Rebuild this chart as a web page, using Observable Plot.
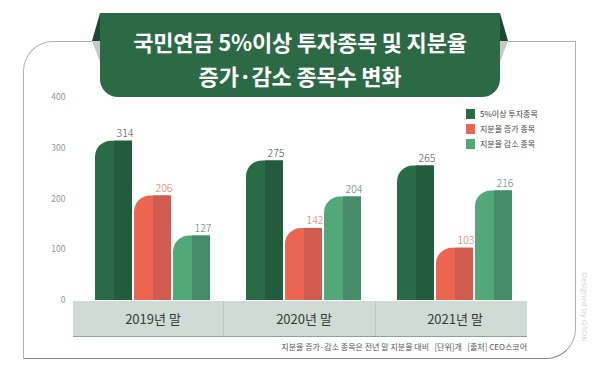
<!DOCTYPE html>
<html><head><meta charset="utf-8">
<script src="https://cdn.jsdelivr.net/npm/d3@7"></script>
<script src="https://cdn.jsdelivr.net/npm/@observablehq/plot@0.6"></script>
<style>
body{margin:0;background:#fff;}
#wrap{position:relative;width:600px;height:375px;overflow:hidden;font-family:"Noto Sans CJK KR","Noto Sans",sans-serif;}
.frame{position:absolute;left:23px;top:41px;width:551px;height:316px;border:1.5px solid #aab3af;border-top-left-radius:30px;border-bottom-right-radius:30px;border-bottom-color:#7d8883;}
.band{position:absolute;left:73px;top:301px;width:454px;height:35px;background:#cfdbd4;border-bottom:1.5px solid #8ea398;}
.band .dv{position:absolute;top:0;width:1px;height:35px;background:#bccbc3;}
#chart{position:absolute;left:0;top:0;}
.banner{position:absolute;left:100px;top:13px;width:400px;height:84px;background:#2c6a45;border-radius:0 0 18px 18px;}
.flap{position:absolute;}
.title{position:absolute;left:90px;top:24px;width:420px;text-align:center;color:#fff;font-size:22px;font-weight:700;line-height:34px;letter-spacing:-0.2px;}
.legend{position:absolute;left:466px;top:106px;font-size:8px;color:#444;}
.legend div{height:15px;display:flex;align-items:center;}
.legend span{display:inline-block;width:9px;height:10px;margin-right:5px;}
.foot{position:absolute;right:73px;top:341px;font-size:8px;color:#555;white-space:pre;}
.credit{position:absolute;left:580px;top:272px;writing-mode:vertical-rl;font-size:8px;color:#cfd5d2;font-family:"Open Sans",sans-serif;}
g[aria-label="y-axis tick label"]{font-size:8.5px;fill:#8d9a94;}
g[aria-label="fx-axis tick label"]{font-size:13px;fill:#333b37;}
</style></head><body>
<div id="wrap">
  <div class="frame"></div>
  <div class="band"><div class="dv" style="left:150px"></div><div class="dv" style="left:302px"></div></div>
  <div id="chart"></div>
  <div class="flap" style="left:92px;top:13px;width:8px;height:28px;background:#1d4a2f;clip-path:polygon(100% 0,0 100%,100% 100%);"></div>
  <div class="flap" style="left:92px;top:41px;width:8px;height:21px;background:#c4c9c7;clip-path:polygon(0 0,100% 0,100% 100%);"></div>
  <div class="flap" style="left:500px;top:13px;width:8px;height:28px;background:#1d4a2f;clip-path:polygon(0 0,0 100%,100% 100%);"></div>
  <div class="flap" style="left:500px;top:41px;width:8px;height:21px;background:#c4c9c7;clip-path:polygon(0 0,100% 0,0 100%);"></div>
  <div class="banner"></div>
  <div class="title">국민연금 5%이상 투자종목 및 지분율<br>증가·감소 종목수 변화</div>
  <div class="legend" id="legend"></div>
  <div class="foot">지분율 증가·감소 종목은 전년 말 지분율 대비   [단위]개   [출처] CEO스코어</div>
  <div class="credit">Designed by GSOK</div>
</div>
<script>
const years = ["2019년 말", "2020년 말", "2021년 말"];
const series = ["5%이상 투자종목", "지분율 증가 종목", "지분율 감소 종목"];
const topHolding = [314, 275, 265];
const increased = [206, 142, 103];
const decreased = [127, 204, 216];
const yTicks = [0, 100, 200, 300, 400];
const lightColors = ["#2a6b47", "#ec6550", "#52a878"];
const darkColors = ["#235c3c", "#cf5c4f", "#478c68"];
const labelColors = ["#3f514a", "#d9705f", "#5d776d"];

const seriesValues = [topHolding, increased, decreased];
const data = years.flatMap((yr, i) => seriesValues.map((arr, k) => ({year: yr, series: series[k], value: arr[i], k})));

const legend = document.getElementById("legend");
series.forEach((s, k) => {
  const row = document.createElement("div");
  row.innerHTML = `<span style="background:${lightColors[k]}"></span>${s}`;
  legend.appendChild(row);
});

const chart = Plot.plot({
  width: 600, height: 375,
  marginTop: 97, marginBottom: 75, marginLeft: 76, marginRight: 70,
  style: {background: "transparent", fontFamily: "'Noto Sans CJK KR', 'Noto Sans', sans-serif"},
  fx: {domain: years, padding: 0, axis: "bottom", tickSize: 0, tickPadding: 14, label: null},
  x: {domain: series, paddingInner: 0.06, paddingOuter: 0.42, axis: null},
  y: {domain: [0, 400], ticks: yTicks, tickSize: 0, tickPadding: 12, label: null, line: false},
  color: {type: "identity"},
  marks: [
    Plot.barY(data, {fx: "year", x: "series", y: "value", fill: d => lightColors[d.k], rx1y1: 16}),
    Plot.barY(data, {fx: "year", x: "series", y: "value", fill: d => darkColors[d.k], insetLeft: 19}),
    Plot.text(data, {fx: "year", x: "series", y: "value", text: d => String(d.value), fill: d => labelColors[d.k], dx: 11, dy: -4, lineAnchor: "bottom", fontSize: 10.5, fontWeight: 300})
  ]
});
document.getElementById("chart").appendChild(chart);
</script>
</body></html>
